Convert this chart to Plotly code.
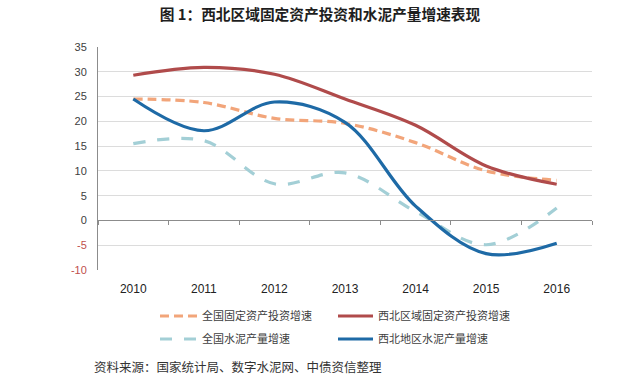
import plotly.graph_objects as go

years = ["2010", "2011", "2012", "2013", "2014", "2015", "2016"]
national_fai = [24.5, 23.8, 20.6, 19.6, 15.7, 10.0, 8.1]
northwest_fai = [29.3, 30.9, 29.5, 24.5, 19.2, 11.0, 7.3]
national_cement = [15.5, 16.1, 7.4, 9.6, 1.8, -4.9, 2.5]
northwest_cement = [24.5, 18.1, 23.9, 19.8, 2.9, -6.7, -4.6]

y_ticks = [-10, -5, 0, 5, 10, 15, 20, 25, 30, 35]
y_tick_text = [("<span style='color:#c0504d'>%d</span>" % v) if v < 0 else str(v) for v in y_ticks]

xi = list(range(len(years)))

fig = go.Figure()
fig.add_trace(go.Scatter(x=xi, y=national_fai, name="全国固定资产投资增速", mode="lines",
                         line=dict(color="#F2A57A", width=3.2, dash="9px,5px", shape="spline", smoothing=1),
                         legend="legend"))
fig.add_trace(go.Scatter(x=xi, y=northwest_fai, name="西北区域固定资产投资增速", mode="lines",
                         line=dict(color="#B04B4B", width=3.2, shape="spline", smoothing=1),
                         legend="legend2"))
fig.add_trace(go.Scatter(x=xi, y=national_cement, name="全国水泥产量增速", mode="lines",
                         line=dict(color="#A3CFD6", width=3.2, dash="12px,12px", shape="spline", smoothing=1),
                         legend="legend3"))
fig.add_trace(go.Scatter(x=xi, y=northwest_cement, name="西北地区水泥产量增速", mode="lines",
                         line=dict(color="#1E6AA6", width=3.2, shape="spline", smoothing=1),
                         legend="legend4"))

font_cjk = "Noto Sans CJK SC, Noto Sans, sans-serif"
leg_common = dict(orientation="h", xanchor="left", yanchor="middle",
                  font=dict(family=font_cjk, size=11, color="#404040"),
                  bgcolor="rgba(0,0,0,0)")

def px_x(p):
    return (p - 98) / 494

def px_y(p):
    return (270 - p) / 223

fig.update_layout(
    width=640, height=378,
    margin=dict(l=98, r=48, t=47, b=108),
    paper_bgcolor="white", plot_bgcolor="white",
    title=dict(text="<b>图 1：西北区域固定资产投资和水泥产量增速表现</b>", x=0.5, xanchor="center",
               y=1 - 15 / 378, yanchor="middle", font=dict(family=font_cjk, size=14.7, color="#1e1e1e")),
    xaxis=dict(range=[-0.5, 6.5], tickmode="array", tickvals=xi, ticktext=years, showgrid=False,
               zeroline=False, showline=False, ticks="", ticklabelstandoff=10,
               tickfont=dict(family="Liberation Sans, Arial, sans-serif", size=12, color="#222222")),
    xaxis2=dict(range=[-0.5, 6.5], overlaying="x", anchor="free", position=10 / 45, side="bottom",
                showline=True, linecolor="#8c8c8c", linewidth=1, ticks="outside", ticklen=4,
                tickcolor="#8c8c8c", tickmode="array", tickvals=[i - 0.5 for i in range(8)],
                showticklabels=False, showgrid=False, zeroline=False),
    yaxis=dict(range=[-10, 35], tickmode="array", tickvals=y_ticks, ticktext=y_tick_text,
               showgrid=True, gridcolor="#dcdcdc", gridwidth=1, zeroline=False, showline=True,
               linecolor="#8c8c8c", linewidth=1, ticks="", ticklabelstandoff=8,
               tickfont=dict(family="Liberation Sans, Arial, sans-serif", size=11, color="#404040")),
    legend=dict(x=px_x(155), y=px_y(316), itemwidth=37, **leg_common),
    legend2=dict(x=px_x(333), y=px_y(316), itemwidth=35, **leg_common),
    legend3=dict(x=px_x(155), y=px_y(339), itemwidth=37, **leg_common),
    legend4=dict(x=px_x(333), y=px_y(339), itemwidth=35, **leg_common),
    showlegend=True,
)

fig.add_trace(go.Scatter(x=[None], y=[None], xaxis="x2", showlegend=False, hoverinfo="skip"))

fig.add_annotation(text="资料来源：国家统计局、数字水泥网、中债资信整理", xref="paper", yref="paper",
                   x=px_x(92), y=px_y(366), showarrow=False,
                   xanchor="left", yanchor="middle",
                   font=dict(family=font_cjk, size=12.5, color="#333333"))

fig.write_html("out.html", config={"displayModeBar": False},
               post_script="document.body.style.margin='0';")
